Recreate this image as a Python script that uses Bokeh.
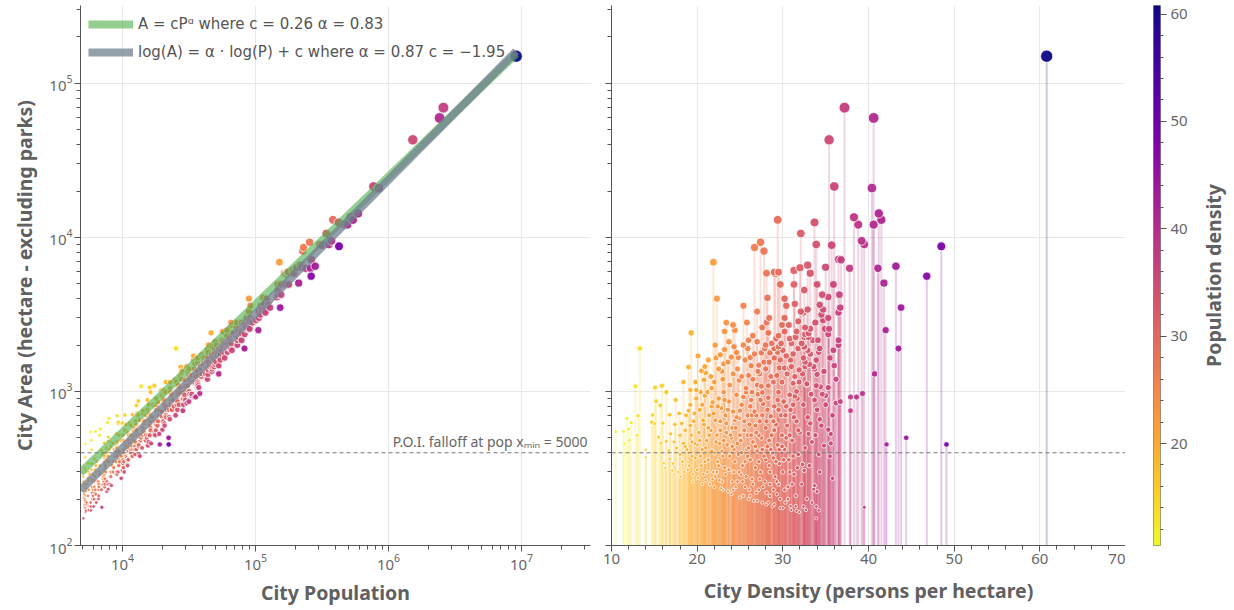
import math
import numpy as np
from bokeh.plotting import figure
from bokeh.models import (ColumnDataSource, LinearColorMapper, Span, Label,
                          Legend, LegendItem, Range1d, BasicTicker, FixedTicker,
                          CustomJSTickFormatter)
from bokeh.transform import transform
from bokeh.palettes import Plasma256
from bokeh.layouts import row
from bokeh.embed import file_html
from bokeh.resources import INLINE

# ---------------- data (density in persons/ha, area in ha) ----------------
# large cities (area >= 5000 ha)
big_density = [60.8, 37.2, 40.6, 35.4, 36.0, 40.4, 41.2, 41.5, 38.3, 38.8, 40.6, 29.4, 33.7,
               32.1, 39.2, 39.5, 33.9, 35.7, 48.5, 27.4, 26.7, 27.8, 21.9, 36.5, 36.8, 32.9,
               35.0, 37.8, 41.1, 43.2, 46.8, 41.8, 28.1, 29.0, 29.1, 29.5, 31.3, 32.0, 33.2]
big_area = [150000, 69500, 59600, 43000, 21400, 20900, 14300, 13000, 13500, 12100, 12100, 13000, 12500,
            10600, 9500, 9000, 9000, 8900, 8750, 9300, 8600, 8150, 6900, 7200, 7150, 6600,
            6400, 6300, 6300, 6500, 5600, 5050, 5850, 5950, 5800, 5950, 6100, 6350, 5850]

# medium cities (2000 - 5000 ha)
mid_density = [22.3, 25.4, 27.0, 28.2, 29.7, 30.2, 30.4, 31.3, 32.5, 31.4, 32.4, 32.1, 34.0, 35.9,
               34.6, 35.3, 36.6, 34.3, 36.7, 36.5, 34.7, 34.5, 35.3, 34.7, 32.9, 43.8, 33.8, 33.2,
               32.6, 34.9, 35.4, 35.3, 32.5, 33.0, 34.1, 36.5, 36.5, 42.0, 19.3, 23.2, 23.4, 24.2,
               24.4, 25.8, 28.1, 28.4, 30.2, 29.9, 30.2, 31.6, 32.6, 33.0, 30.8, 27.0, 28.0, 29.2,
               29.5, 28.7, 22.1, 23.7, 25.4, 28.3, 27.6, 26.5, 30.7, 31.8, 32.2, 31.0]
mid_area = [4000, 3600, 3300, 4050, 4950, 4000, 3600, 4950, 4550, 3700, 3250, 3300, 4950, 4950,
            4250, 4100, 4250, 3650, 3500, 3250, 3400, 3150, 3000, 2900, 3400, 3500, 2800, 2550,
            2600, 2550, 2550, 2350, 2250, 2250, 2150, 2150, 2000, 2500, 2400, 2450, 2800, 2700,
            2500, 2800, 2800, 3000, 3000, 2700, 2450, 2450, 2350, 2380, 2200, 2100, 2000, 2200,
            2300, 2050, 2000, 2100, 2000, 2400, 2600, 2300, 2700, 2850, 2050, 2050]

# towns (1000 - 2000 ha)
town_density = [34.3, 34.2, 32.5, 43.5, 40.7, 13.3, 25.9, 23.2, 29.0, 29.5, 22.7, 23.1, 24.0, 24.6,
                24.8, 22.5, 24.2, 24.9, 25.7, 26.2, 26.3, 26.0, 27.5, 28.5, 29.7, 29.6, 30.2, 30.8,
                27.2, 28.0, 29.3, 31.8, 31.2, 32.5, 32.6, 32.8, 31.2, 31.6, 27.0, 27.5, 28.3, 19.0,
                20.5, 21.3, 20.8, 19.2, 19.9, 21.7, 12.8, 15.1, 15.9, 16.4, 32.4, 32.6, 33.6, 33.7,
                33.1, 36.0, 34.0, 32.8, 33.9, 34.4, 35.3, 26.5, 27.3, 27.8, 28.6, 29.0, 29.9, 30.5,
                30.9, 31.4, 31.9, 30.0, 33.2, 33.9, 23.0, 22.0, 23.8, 35.5, 36.2, 34.8, 35.9, 18.4,
                20.1, 21.0,
                19.8, 20.9, 21.6, 22.2, 22.9, 23.6, 24.3, 24.7, 25.2, 25.6, 26.0, 26.7, 27.1, 27.9,
                28.4, 28.9, 29.4, 29.8, 30.4, 31.0, 31.5, 31.9, 32.3, 32.9, 33.5]
town_area = [1900, 1800, 1950, 1900, 1300, 1900, 1900, 1870, 1900, 1950, 1730, 1510, 1670, 1790,
             1660, 1400, 1300, 1180, 1050, 1660, 1470, 1270, 1780, 1780, 1600, 1420, 1420, 1420,
             1480, 1400, 1270, 1900, 1750, 1920, 1550, 1120, 1130, 1000, 1100, 1080, 1090, 1440,
             1360, 1600, 1190, 1020, 1020, 1050, 1080, 1060, 1090, 990, 1650, 1450, 1450, 1400,
             1500, 1470, 1290, 1110, 1090, 1070, 1060, 1200, 1300, 1550, 1250, 1650, 1150, 1300,
             1600, 1250, 1380, 1850, 1750, 1600, 1200, 1150, 1100, 1650, 1200, 1350, 1850, 1150,
             1700, 1320,
             1150, 1450, 1250, 1650, 1350, 1550, 1950, 1400, 1250, 1600, 2150, 1750, 1350, 1900,
             1550, 1150, 1800, 2050, 1700, 1450, 2250, 1150, 1300, 1850, 2150]

# dense small places (density >= 32, area < 1000 ha)
dense_density = [34.6, 35.0, 36.2, 36.7, 37.9, 38.6, 39.3, 37.9, 34.3, 35.3, 35.6, 35.6, 33.0, 33.4,
                 34.8, 42.1, 44.4, 49.1, 35.5, 32.3, 32.5, 34.3, 35.8, 33.7, 33.6, 34.0, 32.8, 39.5,
                 32.4, 33.9, 34.2, 33.9, 33.7, 34.0, 34.5, 35.0, 35.8, 34.2, 33.8, 32.0, 32.2, 32.4,
                 32.6, 32.7, 32.9, 33.1, 33.3, 33.4, 33.2]
dense_area = [960, 940, 840, 860, 920, 920, 970, 750, 660, 565, 530, 460, 530, 470,
              445, 453, 500, 453, 380, 336, 307, 300, 273, 245, 232, 224, 201, 177,
              179, 179, 169, 150, 880, 760, 600, 820, 700, 390, 520, 540, 250, 820,
              430, 170, 680, 330, 960, 190, 620]

# sparse small places (density < 17)
sparse_density = [10.5, 11.4, 12.0, 11.8, 12.3, 13.1, 13.0, 12.1, 11.5, 14.0, 14.0, 14.8, 15.2,
                  15.7, 14.7, 15.0, 16.0, 16.8, 16.9, 15.5, 15.8, 16.4, 16.1, 16.3, 16.8, 16.7]
sparse_area = [547, 549, 569, 668, 627, 695, 518, 483, 457, 418, 374, 703, 865,
               811, 632, 617, 623, 706, 531, 505, 462, 475, 342, 319, 365, 414]

# the bulk of small places (17 <= density < 32, area < 1000 ha)
small_density = [17.1, 17.2, 17.3, 17.4, 17.6, 17.8, 17.9, 17.5,
                 18.1, 18.3, 18.4, 18.6, 18.7, 18.9, 19.0, 19.2, 19.3, 19.5, 19.6, 19.8, 19.9, 19.7,
                 20.1, 20.2, 20.3, 20.5, 20.6, 20.8, 20.9, 21.0, 21.1, 21.3, 21.4, 21.5, 21.6, 21.8,
                 21.9, 21.7, 20.4, 21.2,
                 22.0, 22.1, 22.2, 22.4, 22.5, 22.6, 22.7, 22.8, 22.9, 23.0, 23.1, 23.2, 23.4, 23.5,
                 23.6, 23.7, 23.8, 23.9, 23.3, 22.3,
                 24.0, 24.1, 24.2, 24.3, 24.5, 24.6, 24.7, 24.8, 24.9, 25.0, 25.1, 25.2, 25.3, 25.5,
                 25.6, 25.7, 25.8, 25.9, 25.4, 24.4, 25.1, 25.9,
                 26.0, 26.1, 26.2, 26.3, 26.4, 26.5, 26.6, 26.7, 26.8, 26.9, 27.0, 27.1, 27.2, 27.3,
                 27.4, 27.5, 27.6, 27.7, 27.8, 27.9, 26.4, 27.6,
                 28.0, 28.1, 28.2, 28.3, 28.4, 28.5, 28.6, 28.7, 28.8, 28.9, 29.0, 29.1, 29.2, 29.3,
                 29.4, 29.5, 29.6, 29.7, 29.8, 29.9, 28.5, 29.5,
                 30.0, 30.1, 30.2, 30.3, 30.5, 30.6, 30.7, 30.9, 31.0, 31.1, 31.3, 31.4, 31.5, 31.6,
                 31.8, 31.9,
                 18.5, 19.1, 19.4, 20.0, 20.7, 20.9, 21.2, 21.8, 22.1, 22.5, 22.9, 23.3, 23.7, 24.1,
                 24.5, 24.9, 25.3, 25.7, 26.1, 26.5, 26.9, 27.3, 27.7, 28.1, 28.5, 28.9, 29.3, 29.7,
                 30.2, 30.6, 31.1, 31.5,
                 18.0, 18.8, 19.4, 20.0, 20.4, 21.0, 21.4, 22.0, 22.6, 23.0, 23.4, 24.0, 24.3, 24.7,
                 25.2, 25.6, 26.0, 26.3, 26.8, 27.2, 27.6, 28.0, 28.4, 28.8, 29.2, 29.6, 30.1, 30.4,
                 30.8, 31.2, 31.7,
                 18.2, 19.0, 20.6, 21.9, 22.4, 23.2, 24.4, 25.0, 25.4, 26.2, 26.9, 27.4, 28.2, 28.9,
                 29.4, 30.3, 30.8, 31.2, 31.8,
                 18.0, 18.6, 19.2, 19.7, 20.3, 20.7, 21.3, 21.7, 22.3, 22.7, 23.1, 23.6, 24.1, 24.6,
                 25.0, 25.5, 25.9, 26.4, 26.8, 27.2, 27.6, 28.1, 28.6, 29.0, 29.5, 29.9, 30.4, 30.8,
                 31.3, 31.7,
                 19.5, 20.6, 22.8, 24.2, 26.2, 27.0, 28.3, 29.0, 30.0, 30.9, 31.6]
small_area = [307, 340, 470, 610, 430, 300, 720, 880,
              280, 350, 460, 560, 700, 310, 400, 820, 520, 290, 640, 370, 900, 460,
              275, 540, 760, 330, 420, 610, 940, 265, 480, 360, 700, 250, 560, 850,
              300, 410, 990, 990,
              240, 650, 470, 350, 900, 265, 560, 780, 410, 230, 990, 320, 620, 450,
              225, 860, 380, 520, 700, 300,
              215, 440, 740, 300, 580, 950, 260, 390, 670, 205, 480, 820, 330, 560,
              240, 990, 420, 700, 210, 350, 290, 520,
              200, 610, 360, 880, 270, 470, 195, 740, 320, 540, 410, 960, 230, 640,
              300, 500, 190, 830, 380, 260, 990, 985,
              580, 185, 440, 910, 330, 250, 690, 520, 180, 370, 800, 280, 610, 215,
              450, 990, 340, 175, 700, 520, 210, 250,
              300, 860, 420, 190, 600, 240, 360, 760, 170, 480, 290, 930, 210, 640,
              390, 165,
              300, 330, 380, 310, 290, 350, 300, 270, 280, 330, 260, 290, 310, 260,
              240, 300, 260, 280, 230, 250, 220, 270, 240, 220, 300, 230, 260, 200,
              230, 200, 250, 180,
              390, 420, 470, 450, 380, 430, 520, 400, 460, 380, 540, 500, 420, 460,
              400, 350, 430, 520, 440, 350, 420, 360, 480, 400, 350, 420, 360, 500,
              300, 380, 320,
              620, 750, 820, 720, 800, 880, 650, 750, 920, 800, 700, 880, 760, 640,
              880, 700, 950, 820, 560,
              520, 440, 600, 720, 480, 650, 580, 800, 520, 640, 480, 760, 580, 680,
              520, 640, 380, 700, 600, 520, 700, 640, 420, 560, 760, 440, 800, 520,
              680, 900,
              260, 250, 235, 230, 210, 195, 190, 185, 175, 180, 168]

# fitted laws (from legend)
power_c, power_alpha = 0.26, 0.83
loglin_alpha, loglin_c = 0.87, -1.95
poi_area = 400
poi_xmin = 5000

# ---------------- assemble ----------------
density = (big_density + mid_density + town_density + dense_density + sparse_density + small_density)
area = (big_area + mid_area + town_area + dense_area + sparse_area + small_area)
population = [d * a for d, a in zip(density, area)]
order = sorted(range(len(density)), key=lambda i: population[i])
density = [density[i] for i in order]
area = [area[i] for i in order]
population = [population[i] for i in order]


def marker_size(p):
    x = max(0.0, math.log10(p / poi_xmin))
    return 3 + 2.0 * x + 1.5 * math.sqrt(x)


size = [marker_size(p) for p in population]

src = ColumnDataSource(dict(pop=population, area=area, density=density, size=size,
                            base=[100] * len(density)))

d_lo, d_hi = min(density), max(density)
mapper = LinearColorMapper(palette=list(reversed(Plasma256)), low=d_lo, high=d_hi)

FONT = "Noto Sans"
AXC = "#555555"
TXT = "#666666"
LBL = "#606060"
FRAME_H = 540


def style(p):
    p.outline_line_color = None
    p.grid.grid_line_color = "#e8e8e8"
    p.grid.grid_line_width = 1
    for ax in p.axis:
        ax.axis_line_color = AXC
        ax.major_tick_line_color = AXC
        ax.minor_tick_line_color = AXC
        ax.major_tick_in = 0
        ax.major_tick_out = 6
        ax.minor_tick_in = 0
        ax.minor_tick_out = 4
        ax.major_label_text_font = FONT
        ax.major_label_text_font_size = "15px"
        ax.major_label_text_color = TXT
        ax.major_label_standoff = 2
        ax.axis_label_text_font = FONT
        ax.axis_label_text_font_size = "19.5px"
        ax.axis_label_text_font_style = "bold"
        ax.axis_label_text_color = LBL
        ax.axis_label_standoff = 6


# ---------------- left panel ----------------
left = figure(x_axis_type="log", y_axis_type="log",
              x_range=Range1d(4830, 3.3e7), y_range=Range1d(100, 3.2e5),
              frame_width=510, frame_height=FRAME_H,
              min_border_left=80, min_border_right=11, min_border_top=5, min_border_bottom=58,
              output_backend="svg", toolbar_location=None)
style(left)
left.xaxis.axis_label = "City Population"
left.yaxis.axis_label = "City Area (hectare - excluding parks)"
left.yaxis.axis_label_standoff = 8

left.scatter("pop", "area", size="size", source=src,
             fill_color=transform("density", mapper), fill_alpha=0.95,
             line_color="white", line_width=0.8)

line_x = [left.x_range.start, max(population)]
green_y = [power_c * x ** power_alpha for x in line_x]
gray_y = [math.exp(loglin_c) * x ** loglin_alpha for x in line_x]
r_green = left.line(line_x, green_y, line_color="#4daf4a", line_alpha=0.6, line_width=8)
r_gray = left.line(line_x, gray_y, line_color="#708090", line_alpha=0.75, line_width=8)

legend = Legend(items=[
    LegendItem(label="A = cPᵅ where c = %.2f α = %.2f" % (power_c, power_alpha), renderers=[r_green]),
    LegendItem(label="log(A) = α · log(P) + c where α = %.2f c = −%.2f" % (loglin_alpha, abs(loglin_c)),
               renderers=[r_gray]),
], location="top_left", label_text_font="DejaVu Sans", label_text_font_size="15px",
    label_text_color="#555555", glyph_width=45, glyph_height=22, label_standoff=5,
    spacing=6, padding=2, margin=6, background_fill_alpha=0, border_line_alpha=0)
left.add_layout(legend)

left.add_layout(Span(location=poi_area, dimension="width", line_color="#777777",
                     line_dash="4 3", line_width=1))
left.add_layout(Label(x=left.x_range.end, y=poi_area, x_offset=-3, y_offset=2,
                      text="P.O.I. falloff at pop xₘᵢₙ = %d" % poi_xmin,
                      text_align="right", text_baseline="bottom",
                      text_font=FONT, text_font_size="14px", text_color="#666666"))

# ---------------- right panel ----------------
right = figure(y_axis_type="log", x_range=Range1d(10, 70), y_range=left.y_range,
               frame_width=514, frame_height=FRAME_H,
               min_border_left=10, min_border_right=0, min_border_top=5, min_border_bottom=58,
               output_backend="svg", toolbar_location=None)
style(right)
right.xaxis.axis_label = "City Density (persons per hectare)"
right.xaxis.axis_label_standoff = 10
right.yaxis.formatter = CustomJSTickFormatter(code="return ''")
right.yaxis.major_label_standoff = 0

right.segment(x0="density", y0="base", x1="density", y1="area", source=src,
              line_color=transform("density", mapper), line_alpha=0.22, line_width=2)
right.scatter("density", "area", size="size", source=src,
              fill_color=transform("density", mapper), fill_alpha=0.95,
              line_color="white", line_width=0.8)
right.add_layout(Span(location=poi_area, dimension="width", line_color="#777777",
                      line_dash="4 3", line_width=1))

# ---------------- colour bar (gradient through the same mapper) ----------------
cbar = figure(x_range=Range1d(0, 1), y_range=Range1d(d_lo, d_hi),
              frame_width=7, frame_height=FRAME_H, y_axis_location="right",
              min_border_left=28, min_border_right=36, min_border_top=5, min_border_bottom=58,
              output_backend="svg", toolbar_location=None)
n_steps = 256
grad = np.linspace(d_lo, d_hi, n_steps).reshape(n_steps, 1)
cbar.image(image=[grad], x=0, y=d_lo, dw=1, dh=d_hi - d_lo, color_mapper=mapper)
cbar.xaxis.visible = False
cbar.grid.visible = False
cbar.outline_line_color = "#888888"
cbar.yaxis.ticker = BasicTicker(desired_num_ticks=6)
ya = cbar.yaxis[0]
ya.axis_line_color = None
ya.major_tick_line_color = AXC
ya.minor_tick_line_color = AXC
ya.major_tick_in = 0
ya.major_tick_out = 6
ya.minor_tick_in = 0
ya.minor_tick_out = 3
ya.major_label_text_font = FONT
ya.major_label_text_font_size = "15px"
ya.major_label_text_color = TXT
ya.major_label_standoff = 4

# title of colour bar (left-side axis label reads bottom-to-top)
ctitle = figure(x_range=Range1d(0, 1), y_range=Range1d(d_lo, d_hi),
                frame_width=1, frame_height=FRAME_H,
                min_border_left=0, min_border_right=0, min_border_top=5, min_border_bottom=58,
                output_backend="svg", toolbar_location=None)
ctitle.xaxis.visible = False
ctitle.grid.visible = False
ctitle.outline_line_color = None
ctitle.yaxis.ticker = FixedTicker(ticks=[])
ta = ctitle.yaxis[0]
ta.axis_line_color = None
ta.major_tick_line_color = None
ta.minor_tick_line_color = None
ta.axis_label = "Population density"
ta.axis_label_text_font = FONT
ta.axis_label_text_font_size = "19.5px"
ta.axis_label_text_font_style = "bold"
ta.axis_label_text_color = LBL
ta.axis_label_standoff = 0

layout = row(left, right, cbar, ctitle)
open("out.html", "w").write(file_html(layout, INLINE))
